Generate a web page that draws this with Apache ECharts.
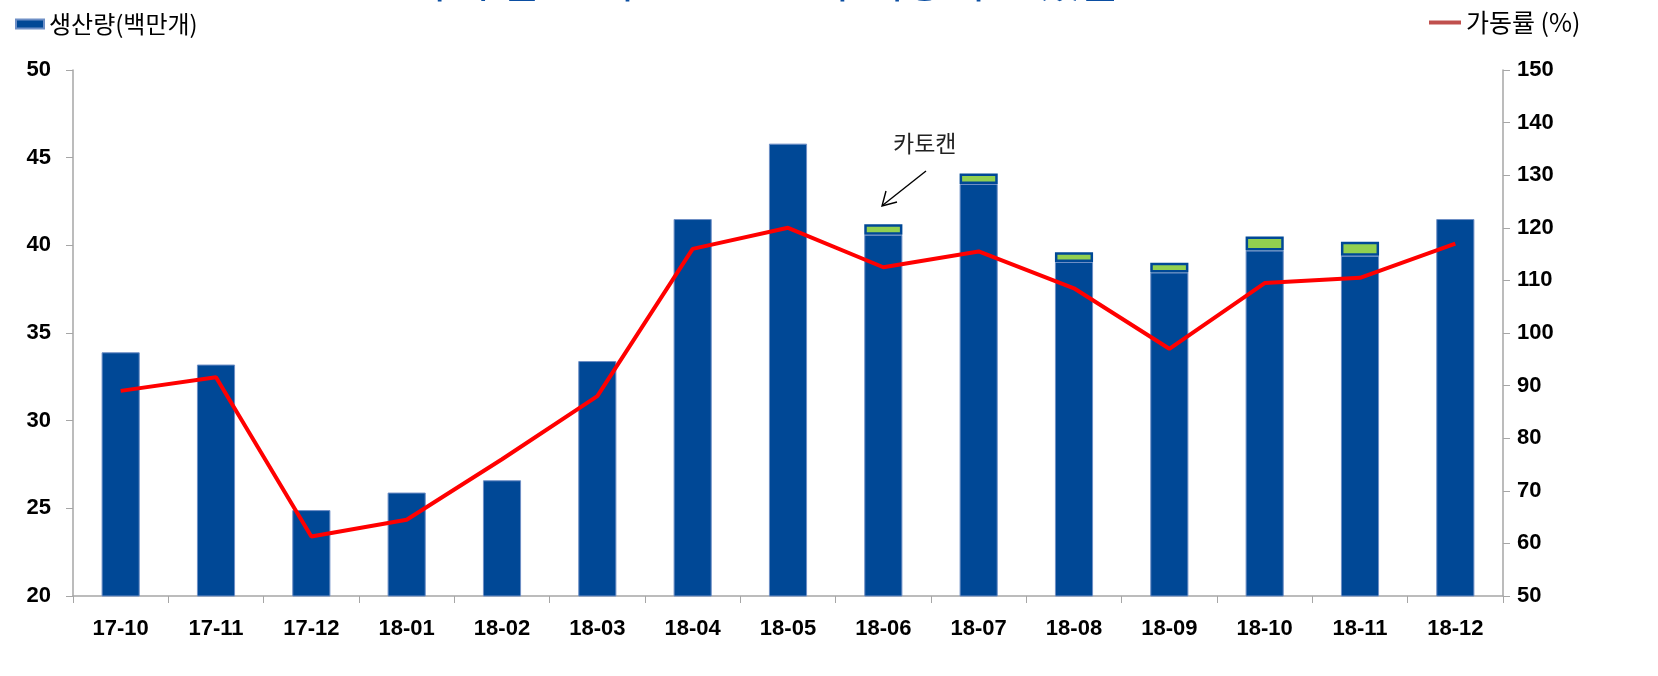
<!DOCTYPE html>
<html>
<head>
<meta charset="utf-8">
<script src="https://cdn.jsdelivr.net/npm/echarts@6/dist/echarts.min.js"></script>
<style>html,body{margin:0;padding:0;background:#fff}#c{width:1658px;height:676px}</style>
</head>
<body>
<div id="c"></div>
<script>
const categories = ['17-10','17-11','17-12','18-01','18-02','18-03','18-04','18-05','18-06','18-07','18-08','18-09','18-10','18-11','18-12'];
// 생산량 (백만개) excluding 카토캔 portion
const productionBase = [33.9, 33.2, 24.9, 25.9, 26.6, 33.4, 41.5, 45.8, 40.6, 43.5, 39.05, 38.45, 39.7, 39.4, 41.5];
// 카토캔 portion (백만개)
const cathodeCan = [null, null, null, null, null, null, null, null, 0.6, 0.6, 0.55, 0.55, 0.8, 0.8, null];
// 가동률 (%)
const utilization = [89, 91.6, 61.3, 64.5, 76, 88, 116, 120, 112.5, 115.5, 108.5, 97, 109.5, 110.5, 117];
const leftTicks = {min: 20, max: 50, interval: 5};
const rightTicks = {min: 50, max: 150, interval: 10};

const chart = echarts.init(document.getElementById('c'));
const labelFont = {fontFamily: "'Liberation Sans',Arial,sans-serif", fontWeight: 'bold', fontSize: 22, color: '#000'};
const korFont = "'Noto Sans CJK KR',sans-serif";
chart.setOption({
  animation: false,
  grid: {left: 73, right: 155, top: 70, bottom: 80},
  legend: [
    {left: 10, top: 7, itemWidth: 28, itemHeight: 9, itemGap: 5,
     textStyle: {fontFamily: korFont, fontSize: 24, color: '#000'},
     data: [{name: '생산량(백만개)', icon: 'rect'}]},
    {left: 1424, top: 5, itemWidth: 32, itemHeight: 4, itemGap: 8,
     textStyle: {fontFamily: korFont, fontSize: 25, color: '#000'},
     data: [{name: '가동률 (%)', icon: 'rect', itemStyle: {color: '#C0504D'}}]}
  ],
  xAxis: {
    type: 'category', data: categories,
    axisLine: {lineStyle: {color: '#A6A6A6', width: 1.5}},
    axisTick: {show: true, length: 7, lineStyle: {color: '#A6A6A6'}},
    axisLabel: Object.assign({margin: 22}, labelFont)
  },
  yAxis: [
    {type: 'value', min: leftTicks.min, max: leftTicks.max, interval: leftTicks.interval, position: 'left',
     splitLine: {show: false},
     axisLine: {show: true, lineStyle: {color: '#A6A6A6', width: 1.5}},
     axisTick: {show: true, length: 7, lineStyle: {color: '#A6A6A6'}},
     axisLabel: Object.assign({margin: 22}, labelFont)},
    {type: 'value', min: rightTicks.min, max: rightTicks.max, interval: rightTicks.interval, position: 'right',
     splitLine: {show: false},
     axisLine: {show: true, lineStyle: {color: '#A6A6A6', width: 1.5}},
     axisTick: {show: true, length: 7, lineStyle: {color: '#A6A6A6'}},
     axisLabel: Object.assign({margin: 14}, labelFont)}
  ],
  series: [
    {name: '생산량(백만개)', type: 'bar', stack: 'p', data: productionBase, barWidth: '40%',
     itemStyle: {color: '#004896', borderColor: '#6E8FC6', borderWidth: 1}},
    {name: '카토캔', type: 'bar', stack: 'p', data: cathodeCan, barWidth: '40%',
     itemStyle: {color: '#92D050', borderColor: '#004896', borderWidth: 2.5}},
    {name: '가동률 (%)', type: 'line', yAxisIndex: 1, data: utilization, showSymbol: false, symbol: 'none',
     lineStyle: {color: '#FF0000', width: 4}, itemStyle: {color: '#FF0000'}}
  ],
  graphic: [
    {type: 'text', x: 408, y: -42, style: {text: '다시 감소 리스크 요소가 해당되고 있음', fontFamily: korFont, fontSize: 45, fill: '#0B4EA2'}},
    {type: 'text', x: 893, y: 132, style: {text: '카토캔', fontFamily: korFont, fontSize: 23, fill: '#222'}},
    {type: 'line', shape: {x1: 926, y1: 171, x2: 883, y2: 205}, style: {stroke: '#000', lineWidth: 1.4}},
    {type: 'polyline', shape: {points: [[886, 191], [882, 206], [897, 202]]}, style: {stroke: '#000', lineWidth: 1.4, fill: null}}
  ]
});
</script>
</body>
</html>
